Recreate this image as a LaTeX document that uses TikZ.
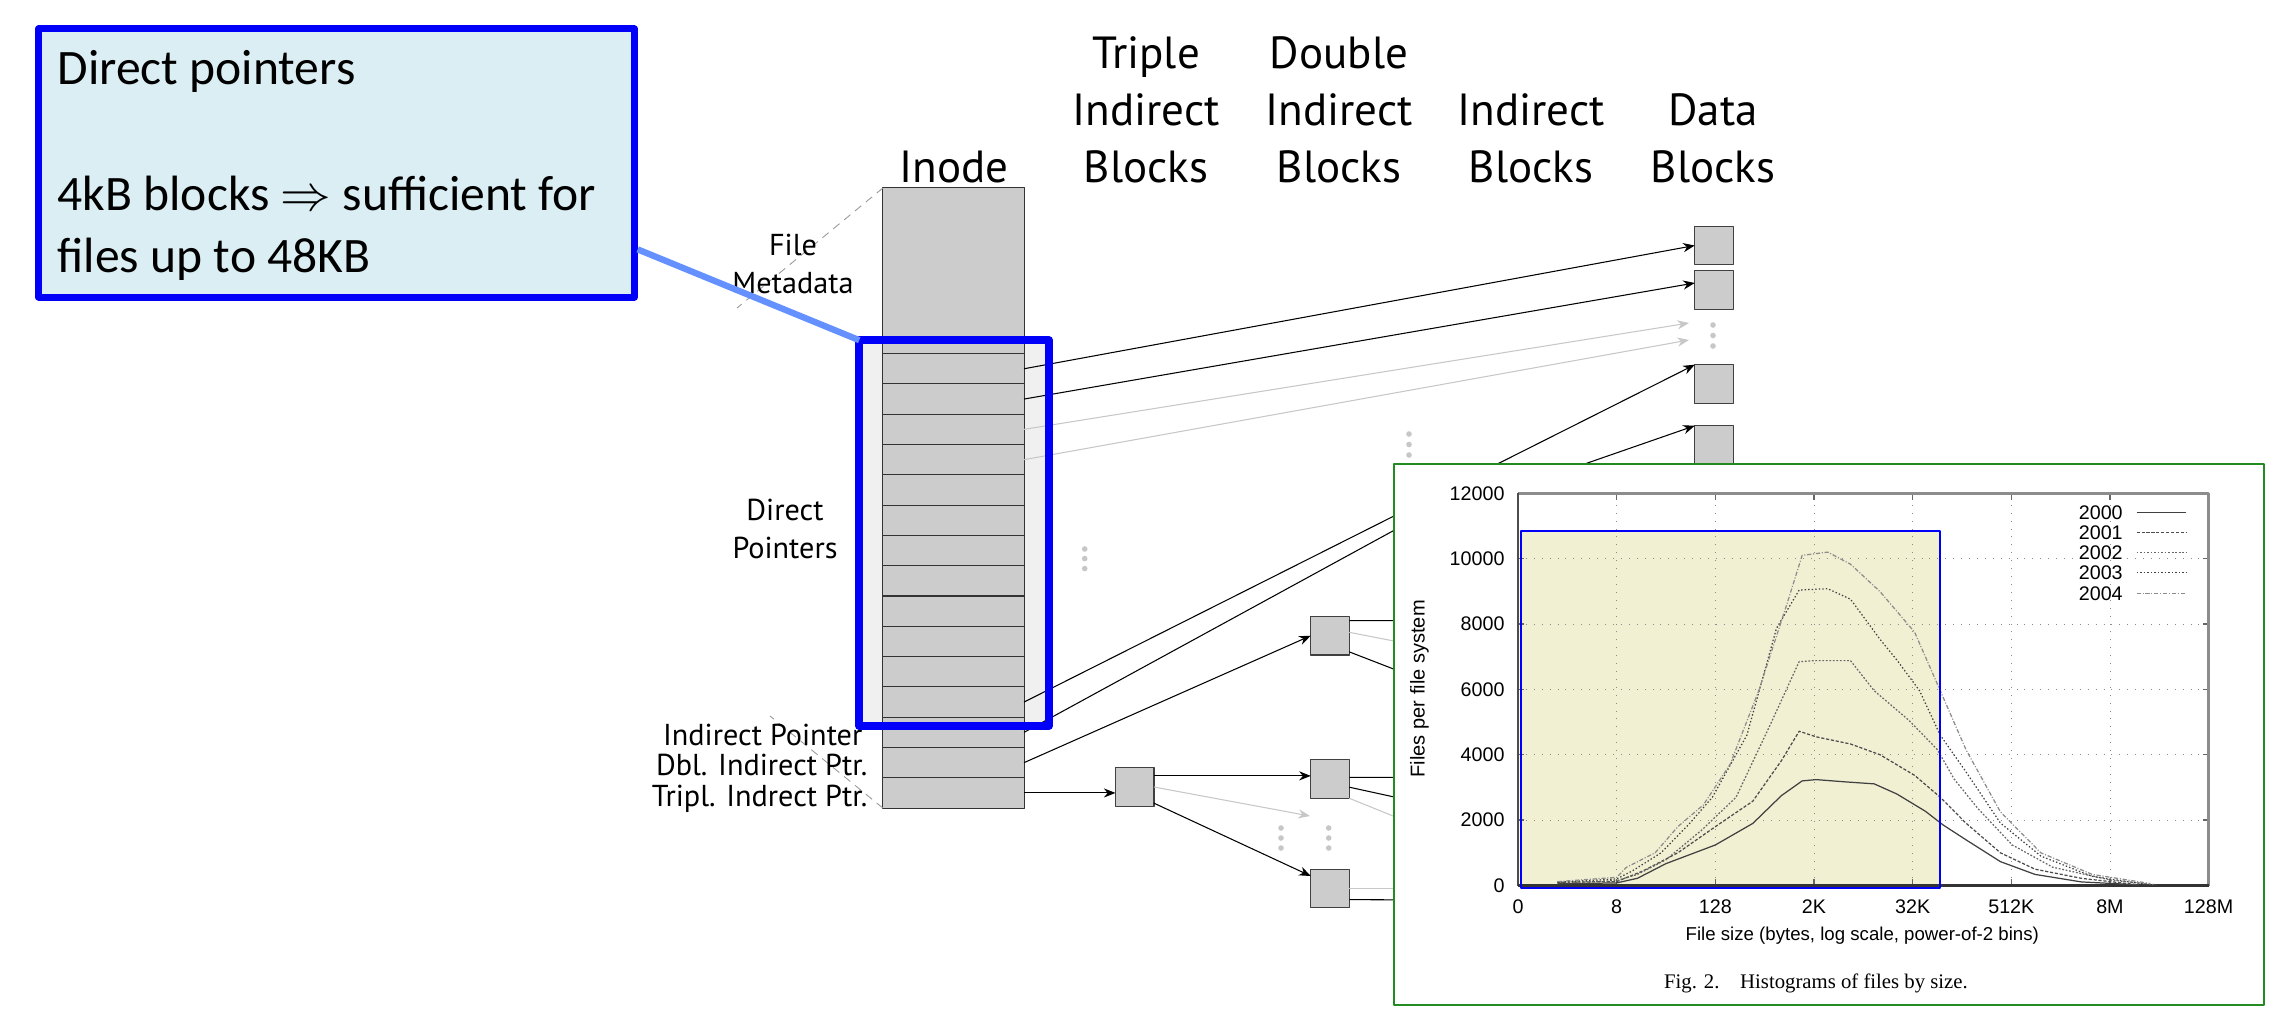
\documentclass[tikz,border=0pt]{standalone}
\usepackage{fontspec}
\setmainfont{PT Sans}
\newfontfamily\calloutfont{Carlito}
\newfontfamily\chartfont{Liberation Sans}
\newfontfamily\capfont{Liberation Serif}
\usetikzlibrary{arrows.meta,positioning,calc}

\definecolor{calloutfill}{RGB}{219,238,243}
\definecolor{calloutline}{RGB}{100,145,255}
\definecolor{hilite}{RGB}{242,240,211}
\definecolor{chartgreen}{RGB}{34,139,34}
\definecolor{pureblue}{RGB}{0,0,250}

\tikzset{
  cell/.style={draw=black!80, fill=black!20, line width=0.3pt, minimum width=1.41cm, minimum height=0.303cm, inner sep=0pt, outer sep=0pt},
  blk/.style={draw=black!75, fill=black!20, line width=0.35pt, minimum size=0.385cm, inner sep=0pt, outer sep=0pt},
  ptr/.style={line width=0.3pt, -{Stealth[length=3.3pt,width=2.6pt]}},
  ghost/.style={ptr, draw=black!22},
  wire/.style={line width=0.3pt},
  faint/.style={line width=0.3pt, draw=black!22},
  dotc/.style={fill=black!22},
  head/.style={font=\fontsize{12.8}{16.2}\selectfont, align=center, inner sep=0pt},
  side/.style={font=\fontsize{8.6}{10.7}\selectfont, align=center, inner sep=0pt},
  leader/.style={draw=black!40, dash pattern=on 2.3pt off 1.7pt, line width=0.25pt},
  callout/.style={draw=pureblue, fill=calloutfill, line width=2pt, minimum width=5.95cm, minimum height=2.68cm, inner sep=0pt},
  ticklab/.style={font=\chartfont\fontsize{5.6}{6}\selectfont, inner sep=0pt},
  gridline/.style={draw=black!45, dotted, line width=0.25pt},
  c2000/.style={draw=black!75, line width=0.35pt},
  c2001/.style={draw=black!70, line width=0.35pt, dash pattern=on 0.9pt off 0.5pt},
  c2002/.style={draw=black!60, line width=0.35pt, dash pattern=on 0.5pt off 0.5pt},
  c2003/.style={draw=black!75, line width=0.35pt, dash pattern=on 0.4pt off 0.6pt},
  c2004/.style={draw=black!45, line width=0.35pt, dash pattern=on 1.2pt off 0.5pt on 0.3pt off 0.5pt},
}

\begin{document}
\begin{tikzpicture}[x=0.01cm, y=-0.01cm, line join=round]
\useasboundingbox (0,0) rectangle (2293,1030);

\node[fill=black!6, minimum width=1.88cm, minimum height=3.84cm, inner sep=0pt] (sel) at (954,533) {};
\node[cell, minimum height=1.656cm] (M) at (953.5,270.8) {};
\foreach \i in {1,...,15}
  \node[cell] (R\i) at (953.5,{338.45+30.3*\i}) {};

\node[head, anchor=base] (inodehead)  at (954,182)  {Inode};
\node[head, anchor=base] (triplehead) at (1146,182) {Triple\\Indirect\\Blocks};
\node[head, anchor=base] (doublehead) at (1339,182) {Double\\Indirect\\Blocks};
\node[head, anchor=base] (indhead)    at (1531,182) {Indirect\\Blocks};
\node[head, anchor=base] (datahead)   at (1713,182) {Data\\Blocks};

\coordinate (metatail) at (737,308);
\coordinate (ptrtail)  at (770,716);
\draw[leader] (M.north west) -- (metatail);
\draw[leader] (R15.south west) -- (ptrtail);
\node[side, anchor=base]      (metalab)   at (793,293) {File\\Metadata};
\node[side, anchor=base]      (directlab) at (785,558) {Direct\\Pointers};
\node[side, anchor=base east] (indlab)    at (863,745) {Indirect Pointer};
\node[side, anchor=base east] (dbllab)    at (868,775) {Dbl. Indirect Ptr.};
\node[side, anchor=base east] (trilab)    at (868,806) {Tripl. Indrect Ptr.};

\node[blk] (D1) at (1714,245.5) {};
\node[blk] (D2) at (1714,290)   {};
\node[blk] (D3) at (1714,384)   {};
\node[blk] (D4) at (1714,445)   {};
\node[blk] (T)  at (1134.7,787) {};
\node[blk] (A)  at (1330,635.7) {};
\node[blk] (B)  at (1330,779)   {};
\node[blk] (C)  at (1330,888.5) {};

\coordinate (G1) at (1689,323);
\coordinate (G2) at (1689,340);
\coordinate (G3) at (1310,816);
\coordinate (I1) at (1510,467);
\coordinate (I2) at (1550,476);
\coordinate (A1) at (1440,620.7);
\coordinate (A2) at (1440,650);
\coordinate (A3) at (1440,687);
\coordinate (B1) at (1440,777.3);
\coordinate (B2) at (1440,807);
\coordinate (B3) at (1440,835);
\coordinate (C1) at (1440,888.5);
\coordinate (C2) at (1440,900);

\draw[ptr] (R1.east) -- (D1.west);
\draw[ptr] (R2.east) -- (D2.160);
\draw[ghost] (R3.east) -- (G1);
\draw[ghost] (R4.east) -- (G2);
\draw[ptr] (R12.east) -- (D3.north west);
\draw[wire] (R13.east) -- (I1);
\draw[ptr] (I2) -- (D4.north west);
\draw[ptr] (R14.east) -- (A.west);
\draw[ptr] (R15.east) -- (R15.east -| T.west);
\draw[ptr] (T.30) -- (T.30 -| B.west);
\draw[ghost] (T.east) -- (G3);
\draw[ptr] (T.-40) -- (C.147);
\draw[wire] (A.38) -- (A1);
\draw[faint] (A.10) -- (A2);
\draw[wire] (A.-40) -- (A3);
\draw[wire] (B.5) -- (B1);
\draw[wire] (B.-23) -- (B2);
\draw[faint] (B.south east) -- (B3);
\draw[faint] (C.east) -- (C1);
\draw[wire] (C.-30) -- (C2);

\foreach \y in {549,558.6,568.6} \fill[dotc] (1084.7,\y) circle[radius=0.8pt];
\foreach \y in {325,335.5,346} \fill[dotc] (1713,\y) circle[radius=0.8pt];
\foreach \y in {434,444.5,455} \fill[dotc] (1409,\y) circle[radius=0.8pt];
\foreach \x in {1281,1328.7} \foreach \y in {828,838,848} \fill[dotc] (\x,\y) circle[radius=0.8pt];

\draw[draw=chartgreen, fill=white, line width=0.6pt] (1394,464) rectangle (2264,1005);
\begin{scope}[shift={(1518,885.5)}, x=0.986cm, y=0.32667cm]
\fill[hilite] (0.03,-0.08) rectangle (4.28,10.85);
\foreach \t in {1,...,6} \draw[gridline] (\t,0) -- (\t,12);
\foreach \k in {2,4,...,10} \draw[gridline] (0,\k) -- (7,\k);
\foreach \t in {1,...,6} \draw[black!60, line width=0.4pt] (\t,0) -- (\t,0.2) (\t,12) -- (\t,11.8);
\foreach \k in {2,4,...,10} \draw[black!60, line width=0.4pt] (0,\k) -- (0.06,\k) (7,\k) -- (6.94,\k);
\draw[black!45, line width=0.8pt] (0,12) -- (7,12) -- (7,0);
\draw[black!70, line width=0.5pt] (0,12) -- (0,0);
\draw[black!80, line width=0.8pt] (0,0) -- (7,0);
\foreach \lab [count=\i from 0] in {0,8,128,2K,32K,512K,8M,128M}
  \node[ticklab] (X\i) at (\i,-0.64) {\lab};
\foreach \k/\lab in {0/0,2/2000,4/4000,6/6000,8/8000,10/10000,12/12000}
  \node[ticklab, anchor=east] (Y\k) at (-0.13,\k) {\lab};
\node[ticklab, font=\chartfont\fontsize{5.7}{6}\selectfont, rotate=90] (ylabel) at (-1.0,6.02) {Files per file system};
\node[ticklab, font=\chartfont\fontsize{5.3}{6}\selectfont] (xlabel) at (3.49,-1.55) {File size (bytes, log scale, power-of-2 bins)};
\node[inner sep=0pt, font=\capfont\fontsize{5.9}{7}\selectfont] (caption) at (3.02,-3.0) {Fig. 2.\quad Histograms of files by size.};
\draw[c2000] plot coordinates {(0.4,0.05) (1.0,0.08) (1.21,0.22) (1.5,0.67) (2.0,1.24) (2.38,1.9) (2.67,2.75) (2.88,3.2) (3.02,3.24) (3.32,3.17) (3.61,3.11) (3.84,2.8) (4.13,2.27) (4.31,1.85) (4.54,1.4) (4.89,0.73) (5.24,0.34) (5.71,0.11) (6.29,0.02)};
\draw[c2001] plot coordinates {(0.4,0.1) (1.0,0.12) (1.27,0.45) (1.62,1.0) (2.0,1.8) (2.38,2.58) (2.67,3.82) (2.85,4.72) (3.02,4.55) (3.37,4.33) (3.67,4.0) (4.02,3.37) (4.28,2.7) (4.54,1.91) (4.89,1.0) (5.24,0.5) (5.71,0.22) (6.29,0.02)};
\draw[c2002] plot coordinates {(0.4,0.08) (1.0,0.15) (1.21,0.34) (1.5,0.79) (1.86,1.69) (2.21,2.7) (2.56,4.94) (2.85,6.85) (3.02,6.88) (3.37,6.88) (3.61,5.96) (3.96,5.06) (4.25,4.16) (4.42,3.26) (4.66,2.36) (5.01,1.24) (5.42,0.56) (6.0,0.17) (6.47,0.02)};
\draw[c2003] plot coordinates {(0.4,0.1) (1.0,0.2) (1.16,0.45) (1.45,1.0) (1.74,1.9) (1.97,2.7) (2.32,4.6) (2.62,7.87) (2.85,9.04) (3.14,9.08) (3.37,8.76) (3.67,7.53) (3.84,6.9) (4.07,5.96) (4.28,4.6) (4.54,3.48) (4.89,1.91) (5.3,0.9) (5.82,0.28) (6.41,0.02)};
\draw[c2004] plot coordinates {(0.4,0.12) (1.0,0.25) (1.1,0.56) (1.39,1.0) (1.62,1.8) (1.88,2.47) (2.15,3.71) (2.44,5.96) (2.73,8.65) (2.88,10.1) (3.14,10.2) (3.37,9.83) (3.67,8.99) (4.02,7.75) (4.28,5.96) (4.54,4.16) (4.89,2.25) (5.3,1.0) (5.82,0.34) (6.41,0.06)};
\foreach \yr/\k in {2000/11.41,2001/10.80,2002/10.19,2003/9.58,2004/8.93} {
  \node[ticklab, anchor=east] (L\yr) at (6.136,\k) {\yr};
  \draw[c\yr] (6.27,\k) -- (6.77,\k);
}
\draw[pureblue, line width=0.6pt] (0.03,-0.08) rectangle (4.28,10.85);
\end{scope}

\draw[pureblue, line width=2.3pt] (sel.north west) rectangle (sel.south east);
\node[callout] (callout) at (336.5,163) {};
\draw[calloutline, line width=1.8pt] (callout.-16) -- (sel.north west);
\node[anchor=base west, align=left, inner sep=0pt, font=\calloutfont\fontsize{14.1}{17.4}\selectfont] (callouttext) at (57,272) {Direct pointers\\[18.4pt]4kB blocks $\Rightarrow$ sufficient for\\files up to 48KB};
\end{tikzpicture}
\end{document}
